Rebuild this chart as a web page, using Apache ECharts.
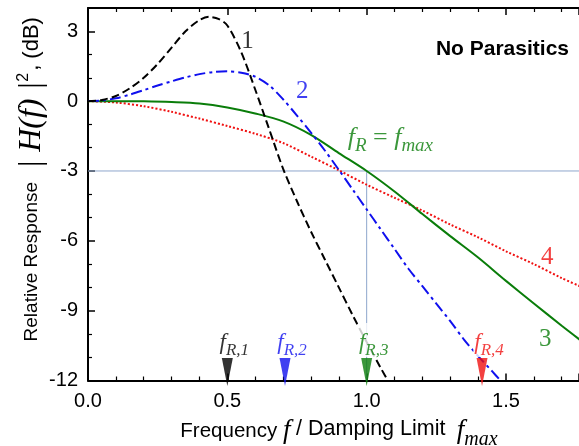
<!DOCTYPE html>
<html><head><meta charset="utf-8">
<script src="https://cdn.jsdelivr.net/npm/echarts@6/dist/echarts.min.js"></script>
<style>html,body{margin:0;padding:0;background:#fff}#c{width:579px;height:446px}</style>
</head><body><div id="c"></div>
<script>
// ---- data ----
const xTickLabels = ['0.0', '0.5', '1.0', '1.5'];
const yTickLabels = ['-12', '-9', '-6', '-3', '0', '3'];

const curve1 = [[0,0],[0.05,0.05],[0.10,0.22],[0.15,0.55],[0.20,1.0],[0.25,1.6],[0.30,2.3],[0.35,3.0],[0.40,3.48],[0.435,3.62],[0.47,3.52],[0.50,3.25],[0.55,2.1],[0.60,0.5],[0.65,-1.2],[0.70,-2.9],[0.75,-4.3],[0.80,-5.6],[0.85,-6.8],[0.90,-8.0],[0.95,-9.2],[1.00,-10.35],[1.05,-11.45],[1.085,-12.2]];
const curve2 = [[0,0],[0.05,0.03],[0.10,0.12],[0.15,0.28],[0.20,0.47],[0.25,0.67],[0.30,0.85],[0.35,1.02],[0.40,1.16],[0.45,1.25],[0.50,1.28],[0.55,1.22],[0.60,1.05],[0.65,0.68],[0.70,0.08],[0.75,-0.62],[0.80,-1.35],[0.85,-2.12],[0.90,-2.95],[0.95,-3.8],[1.00,-4.65],[1.05,-5.5],[1.10,-6.35],[1.15,-7.2],[1.20,-7.95],[1.25,-8.7],[1.30,-9.45],[1.35,-10.25],[1.40,-10.95],[1.45,-11.6],[1.48,-12.0]];
const curve3 = [[0,0],[0.1,0],[0.2,-0.01],[0.3,-0.04],[0.4,-0.1],[0.5,-0.27],[0.6,-0.53],[0.7,-0.87],[0.8,-1.45],[0.9,-2.23],[1.0,-3.0],[1.1,-3.88],[1.2,-4.85],[1.3,-5.8],[1.4,-6.72],[1.5,-7.72],[1.6,-8.69],[1.7,-9.65],[1.765,-10.25]];
const curve4 = [[0,0],[0.1,-0.06],[0.2,-0.22],[0.3,-0.46],[0.4,-0.75],[0.5,-1.07],[0.6,-1.4],[0.7,-1.8],[0.8,-2.38],[0.9,-2.97],[1.0,-3.59],[1.1,-4.15],[1.2,-4.7],[1.3,-5.3],[1.4,-5.85],[1.5,-6.45],[1.6,-7.0],[1.7,-7.6],[1.765,-7.95]];

const resonanceX = [0.5, 0.707, 1.0, 1.414];
const resonanceSubs = ['R,1', 'R,2', 'R,3', 'R,4'];
const refLevel = -3;
const refX = 1.0;

// ---- chart ----
const XMIN = 0, XMAX = 1.762, YMIN = -12, YMAX = 4;
const SERIF = '"Liberation Serif", "DejaVu Serif", serif';
const SANS = '"Liberation Sans", Arial, sans-serif';
const C1 = '#000000', C2 = '#1010ee', C3 = '#0a7d0a', C4 = '#f01010';
const markerColors = [C1, C2, C3, C4];

const subRich = (color, big, small, pad) => ({
  f: {fontFamily: SERIF, fontStyle: 'italic', fontSize: big, lineHeight: big + 2, color, verticalAlign: 'top'},
  s: {fontFamily: SERIF, fontStyle: 'italic', fontSize: small, lineHeight: small, color, verticalAlign: 'top', padding: [pad, 0, 0, 0]},
  e: {fontFamily: SERIF, fontSize: big, lineHeight: big + 2, color, verticalAlign: 'top'}
});

const chart = echarts.init(document.getElementById('c'), null, {renderer: 'canvas'});

const axisCommon = {
  type: 'value', min: XMIN, max: XMAX, interval: 0.5,
  axisLine: {show: true, onZero: false, lineStyle: {color: '#000', width: 2}},
  axisTick: {show: true, inside: true, length: 7, lineStyle: {color: '#000', width: 1.5}},
  minorTick: {show: true, splitNumber: 5, length: 4, lineStyle: {color: '#000', width: 1.2}},
  splitLine: {show: false}
};

const noteLabel = (text, color, size) => ({
  show: true, position: 'inside', formatter: text, fontFamily: SERIF, fontSize: size, color
});

chart.setOption({
  animation: false,
  backgroundColor: '#fff',
  title: {
    text: 'No Parasitics', right: 10, top: 39, padding: 0,
    textStyle: {fontFamily: SANS, fontWeight: 'bold', fontSize: 21, color: '#000'}
  },
  grid: {left: 88, right: 0, top: 8, bottom: 65.5, containLabel: false, outerBoundsMode: 'none'},
  xAxis: [
    Object.assign({}, axisCommon, {
      position: 'bottom',
      axisLabel: {
        show: true, margin: 11, fontFamily: SANS, fontSize: 20, color: '#000', showMaxLabel: false,
        formatter: v => { const s = v.toFixed(1); return xTickLabels.includes(s) ? s : ''; }
      },
      name: 'Frequency {fi|f} {d|/ Damping Limit}  {fi|f}{sub|max}',
      nameLocation: 'middle', nameGap: 37, nameMoveOverlap: false,
      nameTextStyle: {
        fontFamily: SANS, fontSize: 20.5, color: '#000', lineHeight: 28, padding: [0, 0, 0, 11],
        rich: {
          d: {fontFamily: SANS, fontSize: 21.5, lineHeight: 28, color: '#000', verticalAlign: 'top', padding: [1, 0, 0, 0]},
          fi: {fontFamily: SERIF, fontStyle: 'italic', fontSize: 27, lineHeight: 28, color: '#000', verticalAlign: 'top'},
          sub: {fontFamily: SERIF, fontStyle: 'italic', fontSize: 20, lineHeight: 20, color: '#000', verticalAlign: 'top', padding: [12, 0, 0, 0]}
        }
      }
    }),
    Object.assign({}, axisCommon, {
      position: 'top', axisLabel: {show: false}
    })
  ],
  yAxis: {
    type: 'value', min: YMIN, max: YMAX, interval: 3,
    axisLine: {show: true, onZero: false, lineStyle: {color: '#000', width: 2}},
    axisTick: {show: true, inside: true, length: 7, lineStyle: {color: '#000', width: 1.5}},
    minorTick: {show: true, splitNumber: 3, length: 4, lineStyle: {color: '#000', width: 1.2}},
    splitLine: {show: false},
    axisLabel: {
      show: true, margin: 10, fontFamily: SANS, fontSize: 20, color: '#000', showMaxLabel: false,
      formatter: v => { const s = String(v); return yTickLabels.includes(s) ? s : ''; }
    },
    name: 'Relative Response {h| | H(f) |}{sup|2}{n|, (dB)}',
    nameLocation: 'middle', nameGap: 40, nameMoveOverlap: false,
    nameTextStyle: {
      fontFamily: SANS, fontSize: 19, color: '#000', lineHeight: 32, padding: [0, 0, 0, 30],
      rich: {
        h: {fontFamily: SERIF, fontStyle: 'italic', fontSize: 32, lineHeight: 32, color: '#000'},
        sup: {fontFamily: SANS, fontSize: 16, lineHeight: 32, color: '#000', verticalAlign: 'top', padding: [0, 2, 12, 0]},
        n: {fontFamily: SANS, fontSize: 22, lineHeight: 32, color: '#000'}
      }
    }
  },
  series: [
    {type: 'line', name: 'ref-h', data: [[XMIN, refLevel], [XMAX, refLevel]], symbol: 'none', z: 1,
     lineStyle: {color: '#8ea6cc', width: 1}, silent: true},
    {type: 'line', name: 'ref-v', data: [[refX, refLevel], [refX, YMIN]], symbol: 'none', z: 1,
     lineStyle: {color: '#8ea6cc', width: 1}, silent: true},
    {type: 'line', name: '4', data: curve4, symbol: 'none', smooth: 0.3, z: 3,
     lineStyle: {color: C4, width: 2, type: [2, 2]}},
    {type: 'line', name: '3', data: curve3, symbol: 'none', smooth: 0.3, z: 3,
     lineStyle: {color: C3, width: 2}},
    {type: 'line', name: '2', data: curve2, symbol: 'none', smooth: 0.3, z: 3,
     lineStyle: {color: C2, width: 2, type: [11, 4, 3, 4]}},
    {type: 'line', name: '1', data: curve1, symbol: 'none', smooth: 0.3, z: 3,
     lineStyle: {color: C1, width: 2, type: [8, 4]}},
    {
      type: 'scatter', name: 'markers', z: 10, silent: true, clip: false,
      symbol: 'triangle', symbolRotate: 180, symbolSize: [11, 28],
      data: resonanceX.map((x, i) => ({
        value: [x, -11.63],
        itemStyle: {color: markerColors[i]},
        label: {
          show: true, position: 'top', distance: 1, offset: [7, 0],
          formatter: '{f|f}{s|' + resonanceSubs[i] + '}',
          backgroundColor: '#fff', padding: [9, 1, 0, 1],
          rich: subRich(markerColors[i], 23, 17, 10)
        }
      }))
    },
    {
      type: 'scatter', name: 'notes', z: 11, silent: true, symbol: 'circle', symbolSize: 1,
      itemStyle: {color: 'rgba(0,0,0,0)'},
      data: [
        {value: [0.572, 2.55], label: noteLabel('1', C1, 25)},
        {value: [0.769, 0.4], label: noteLabel('2', C2, 25)},
        {value: [1.648, -6.7], label: noteLabel('4', C4, 25)},
        {value: [1.641, -10.25], label: noteLabel('3', C3, 25)},
        {value: [1.085, -1.65], label: {show: true, position: 'inside', formatter: '{f|f}{s|R}{e| = }{f|f}{s|max}', rich: subRich(C3, 26, 19, 11)}}
      ]
    }
  ]
});
</script></body></html>
